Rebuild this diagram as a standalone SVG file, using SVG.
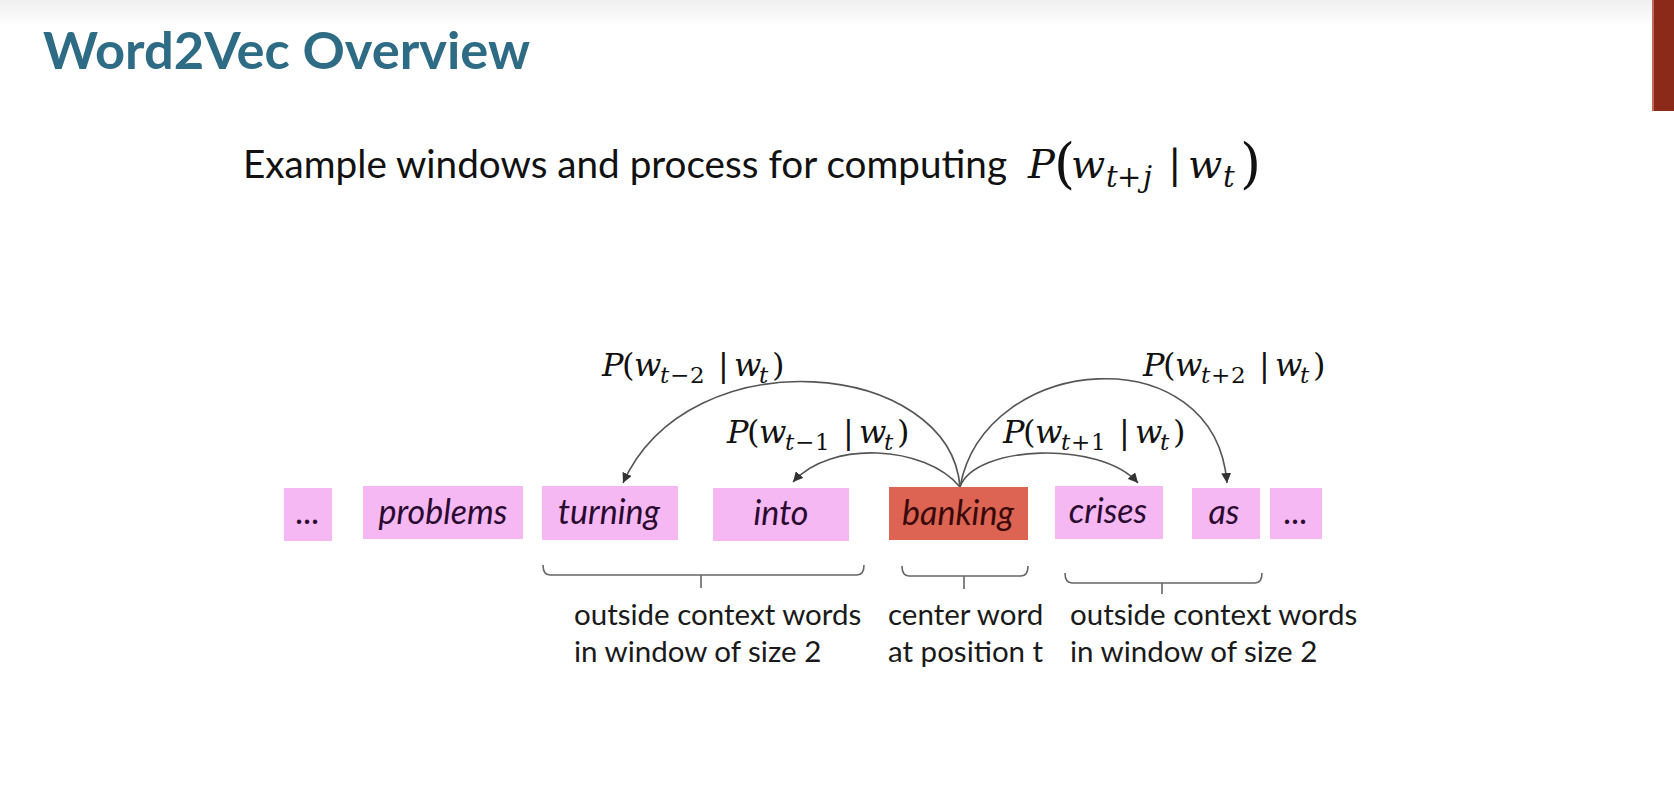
<svg xmlns="http://www.w3.org/2000/svg" width="1674" height="797" viewBox="0 0 1674 797">
<defs>
<linearGradient id="topg" x1="0" y1="0" x2="0" y2="1">
<stop offset="0" stop-color="#efefef"/>
<stop offset="1" stop-color="#ffffff"/>
</linearGradient>
<marker id="ah" viewBox="0 0 10 10" refX="10" refY="5" markerWidth="10" markerHeight="10" markerUnits="userSpaceOnUse" orient="auto">
<path d="M0,0 L10,5 L0,10 z" fill="#333"/>
</marker>
</defs>
<style>
.title{font-family:Lato,"Open Sans",sans-serif;font-weight:bold;font-size:51px;fill:#2e6b85}
.sub{font-family:Lato,"Open Sans",sans-serif;font-size:38px;fill:#111}
.m{font-family:"DejaVu Serif","Liberation Serif",serif;fill:#111}
.mi{font-style:italic}
.box{fill:#f5b8f2}
.cbox{fill:#dd6352}
.bt{font-family:Lato,"Open Sans",sans-serif;font-style:italic;font-size:34px;fill:#2a0a30;text-anchor:middle}
.cbt{fill:#380a0a}
.arc{fill:none;stroke:#555;stroke-width:1.6}
.br{fill:none;stroke:#666;stroke-width:1.6}
.lbl{font-family:Lato,"Open Sans",sans-serif;font-size:29.5px;fill:#1a1a1a}
</style>
<rect x="0" y="0" width="1674" height="797" fill="#ffffff"/>
<rect x="0" y="0" width="1674" height="26" fill="url(#topg)"/>
<rect x="1652" y="0" width="22" height="111" fill="#8c2a1a"/>
<rect x="1652" y="0" width="2" height="111" fill="#c46a5a"/>

<text class="title" x="43" y="69" textLength="487" lengthAdjust="spacingAndGlyphs">Word2Vec Overview</text>

<g id="subtitle">
<text class="sub" x="243" y="178" textLength="764" lengthAdjust="spacingAndGlyphs">Example windows and process for computing</text>
<text class="m" font-size="40"><tspan class="mi" x="1028" y="178">P</tspan><tspan x="1054" y="182" font-size="54">(</tspan><tspan class="mi" x="1071" y="178">w</tspan><tspan class="mi" x="1106" y="187" font-size="29">t</tspan><tspan x="1117" y="187" font-size="29">+</tspan><tspan class="mi" x="1143" y="187" font-size="29">j</tspan><tspan x="1168" y="178">|</tspan><tspan class="mi" x="1188" y="178">w</tspan><tspan class="mi" x="1223" y="187" font-size="29">t</tspan><tspan x="1240" y="182" font-size="54">)</tspan></text>
</g>

<g id="connectors">
<path class="arc" d="M960,487 C950,360 690,335 623,483" marker-end="url(#ah)"/>
<path class="arc" d="M960,487 C925,445 830,440 793,482" marker-end="url(#ah)"/>
<path class="arc" d="M960,487 C975,445 1100,440 1138,483" marker-end="url(#ah)"/>
<path class="arc" d="M960,487 C985,352 1215,335 1227,483" marker-end="url(#ah)"/>
</g>

<g id="label-tm2">
<text class="m" font-size="32"><tspan class="mi" x="602" y="376">P</tspan><tspan x="622" y="376">(</tspan><tspan class="mi" x="634" y="376">w</tspan><tspan class="mi" x="660" y="383" font-size="23">t</tspan><tspan x="670" y="383" font-size="23">−</tspan><tspan x="690" y="383" font-size="23">2</tspan><tspan x="718" y="376">|</tspan><tspan class="mi" x="734" y="376">w</tspan><tspan class="mi" x="759" y="383" font-size="23">t</tspan><tspan x="772" y="376">)</tspan></text>
</g>
<g id="label-tm1">
<text class="m" font-size="32"><tspan class="mi" x="727" y="443">P</tspan><tspan x="747" y="443">(</tspan><tspan class="mi" x="759" y="443">w</tspan><tspan class="mi" x="785" y="450" font-size="23">t</tspan><tspan x="795" y="450" font-size="23">−</tspan><tspan x="815" y="450" font-size="23">1</tspan><tspan x="843" y="443">|</tspan><tspan class="mi" x="859" y="443">w</tspan><tspan class="mi" x="884" y="450" font-size="23">t</tspan><tspan x="897" y="443">)</tspan></text>
</g>
<g id="label-tp1">
<text class="m" font-size="32"><tspan class="mi" x="1003" y="443">P</tspan><tspan x="1023" y="443">(</tspan><tspan class="mi" x="1035" y="443">w</tspan><tspan class="mi" x="1061" y="450" font-size="23">t</tspan><tspan x="1071" y="450" font-size="23">+</tspan><tspan x="1091" y="450" font-size="23">1</tspan><tspan x="1119" y="443">|</tspan><tspan class="mi" x="1135" y="443">w</tspan><tspan class="mi" x="1160" y="450" font-size="23">t</tspan><tspan x="1173" y="443">)</tspan></text>
</g>
<g id="label-tp2">
<text class="m" font-size="32"><tspan class="mi" x="1143" y="376">P</tspan><tspan x="1163" y="376">(</tspan><tspan class="mi" x="1175" y="376">w</tspan><tspan class="mi" x="1201" y="383" font-size="23">t</tspan><tspan x="1211" y="383" font-size="23">+</tspan><tspan x="1231" y="383" font-size="23">2</tspan><tspan x="1259" y="376">|</tspan><tspan class="mi" x="1275" y="376">w</tspan><tspan class="mi" x="1300" y="383" font-size="23">t</tspan><tspan x="1313" y="376">)</tspan></text>
</g>

<g id="w-dots-left"><rect class="box" x="284" y="488" width="48" height="53"/><text class="bt" x="308" y="524">...</text></g>
<g id="w-problems"><rect class="box" x="363" y="486" width="160" height="53"/><text class="bt" x="443" y="524">problems</text></g>
<g id="w-turning"><rect class="box" x="542" y="486" width="136" height="54"/><text class="bt" x="609" y="524">turning</text></g>
<g id="w-into"><rect class="box" x="713" y="488" width="136" height="53"/><text class="bt" x="781" y="525">into</text></g>
<g id="w-banking"><rect class="cbox" x="889" y="487" width="139" height="53"/><text class="bt cbt" x="958" y="525">banking</text></g>
<g id="w-crises"><rect class="box" x="1055" y="486" width="108" height="53"/><text class="bt" x="1108" y="523">crises</text></g>
<g id="w-as"><rect class="box" x="1192" y="488" width="68" height="51"/><text class="bt" x="1224" y="524">as</text></g>
<g id="w-dots-right"><rect class="box" x="1270" y="488" width="52" height="51"/><text class="bt" x="1296" y="524">...</text></g>

<g id="brackets">
<path class="br" d="M543,565 Q543,575 550,575 L857,575 Q864,575 864,565 M701,575 L701,588"/>
<path class="br" d="M902,566 Q902,576 909,576 L1021,576 Q1028,576 1028,566 M964,576 L964,589"/>
<path class="br" d="M1065,573 Q1065,583 1072,583 L1255,583 Q1262,583 1262,573 M1162,583 L1162,594"/>
</g>

<g id="label-left">
<text class="lbl" x="574" y="625">outside context words</text>
<text class="lbl" x="574" y="662">in window of size 2</text>
</g>
<g id="label-center">
<text class="lbl" x="888" y="625">center word</text>
<text class="lbl" x="888" y="662">at position t</text>
</g>
<g id="label-right">
<text class="lbl" x="1070" y="625">outside context words</text>
<text class="lbl" x="1070" y="662">in window of size 2</text>
</g>
</svg>
